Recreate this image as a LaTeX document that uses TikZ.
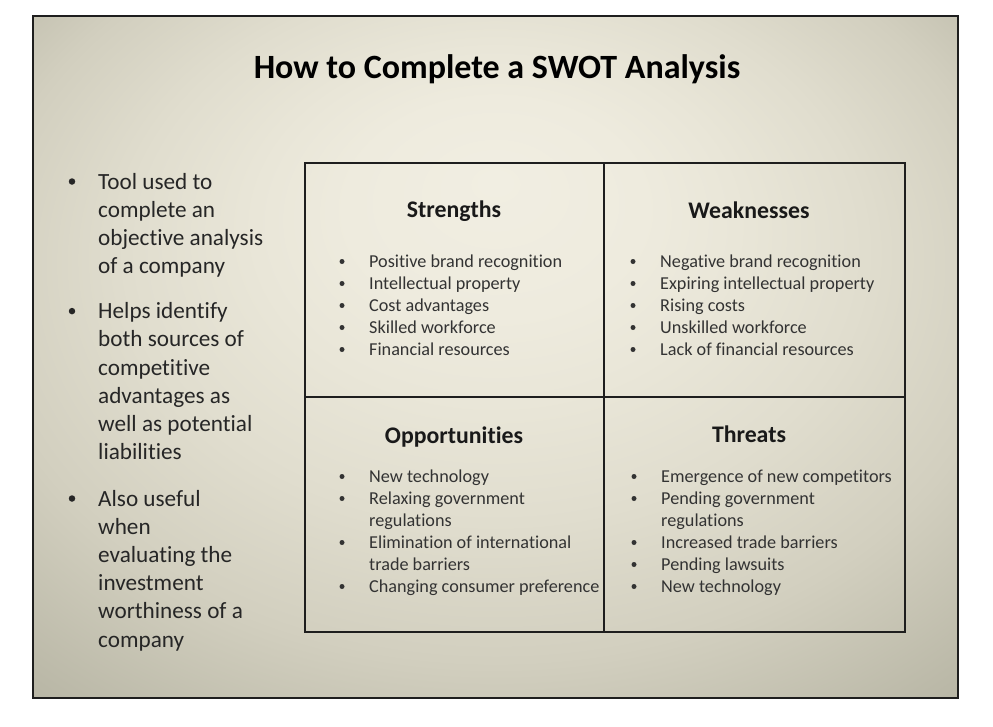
\documentclass[tikz,border=0pt]{standalone}
\usepackage{fontspec}
\setmainfont{Carlito}[Ligatures=NoCommon]

% slide palette
\definecolor{bg0}{HTML}{F1EEE2}
\definecolor{bg1}{HTML}{EEEBDE}
\definecolor{bg2}{HTML}{E9E6D8}
\definecolor{bg3}{HTML}{E0DDCE}
\definecolor{bg4}{HTML}{D2CFBF}
\definecolor{bg5}{HTML}{B7B5A4}
\definecolor{bg6}{HTML}{A5A393}
\definecolor{frame}{HTML}{1E1E1E}
\definecolor{bodytext}{HTML}{262626}
\definecolor{itemtext}{HTML}{333333}

% soft vignette, lightest just above the middle of the slide
% (the path's bounding box spans -25bp..25bp of the shading)
\pgfdeclareradialshading{slidebg}{\pgfpoint{0bp}{13bp}}{%
  color(0bp)=(bg0); color(8bp)=(bg1); color(13bp)=(bg2);
  color(20bp)=(bg3); color(28bp)=(bg4); color(38bp)=(bg5);
  color(46bp)=(bg6); color(50bp)=(bg6)}

\tikzset{
  heading/.style={anchor=base, inner sep=0pt, text=black,
    font=\bfseries\fontsize{34}{40}\selectfont},
  lefttext/.style={anchor=base west, inner sep=0pt, text=bodytext,
    font=\fontsize{23.2}{28}\selectfont},
  leftdot/.style={circle, fill=bodytext, inner sep=0pt, minimum size=6.5pt},
  qhead/.style={anchor=base, inner sep=0pt, text=black!90,
    font=\bfseries\fontsize{23.8}{28}\selectfont},
  itemtext/.style={anchor=base west, inner sep=0pt, text=itemtext,
    font=\fontsize{18.2}{22}\selectfont},
  itemdot/.style={circle, fill=itemtext, inner sep=0pt, minimum size=5pt},
  gridline/.style={draw=frame, line width=1.8pt},
}

\begin{document}
\begin{tikzpicture}[x=1pt, y=-1pt]
  \useasboundingbox (0,0) rectangle (993,726);
  \fill[white] (0,0) rectangle (993,726);

  % slide background and frame
  \shade[shading=slidebg] (33,16) rectangle (958,698);
  \draw[draw=frame, line width=2.4pt] (33,16) rectangle (958,698);

  % title
  \node[heading] (title) at (497,78) {How to Complete a SWOT Analysis};

  % left column bullets
  \foreach \y/\b/\t [count=\i] in {
      189/1/Tool used to, 217.2/0/complete an, 245.4/0/objective analysis,
      273.6/0/of a company,
      318.6/1/Helps identify, 346.8/0/both sources of, 375/0/competitive,
      403.2/0/advantages as, 431.4/0/well as potential, 459.6/0/liabilities,
      506/1/Also useful, 534.2/0/when, 562.4/0/evaluating the,
      590.6/0/investment, 618.8/0/worthiness of a, 647/0/company}{
    \node[lefttext] (left\i) at (98,\y) {\t};
    \ifnum\b=1 \node[leftdot] (leftdot\i) at (72,\y-7.5) {};\fi
  }

  % SWOT grid
  \coordinate (gNW) at (305,163);
  \coordinate (gSE) at (905,632);
  \coordinate (gTop) at (604,163);
  \coordinate (gBot) at (604,632);
  \coordinate (gLeft) at (305,397);
  \coordinate (gRight) at (905,397);
  \draw[gridline] (gNW) rectangle (gSE);
  \draw[gridline] (gTop) -- (gBot);
  \draw[gridline] (gLeft) -- (gRight);

  % quadrant headings
  \node[qhead] (strengths) at (454,217) {Strengths};
  \node[qhead] (weaknesses) at (749,218) {Weaknesses};
  \node[qhead] (opportunities) at (454,443) {Opportunities};
  \node[qhead] (threats) at (749,442) {Threats};

  % Strengths
  \foreach \t [count=\i from 0] in {Positive brand recognition,
      Intellectual property, Cost advantages, Skilled workforce,
      Financial resources}{
    \node[itemtext] (str\i) at (369,267+22*\i) {\t};
    \node[itemdot] (strdot\i) at (342,261.5+22*\i) {};
  }

  % Weaknesses
  \foreach \t [count=\i from 0] in {Negative brand recognition,
      Expiring intellectual property, Rising costs, Unskilled workforce,
      Lack of financial resources}{
    \node[itemtext] (weak\i) at (660,267+22*\i) {\t};
    \node[itemdot] (weakdot\i) at (633,261.5+22*\i) {};
  }

  % Opportunities
  \foreach \t/\b [count=\i from 0] in {New technology/1,
      Relaxing government/1, regulations/0,
      Elimination of international/1, trade barriers/0,
      Changing consumer preference/1}{
    \node[itemtext] (opp\i) at (369,482+22*\i) {\t};
    \ifnum\b=1 \node[itemdot] (oppdot\i) at (342,476.5+22*\i) {};\fi
  }

  % Threats
  \foreach \t/\b [count=\i from 0] in {Emergence of new competitors/1,
      Pending government/1, regulations/0,
      Increased trade barriers/1, Pending lawsuits/1, New technology/1}{
    \node[itemtext] (thr\i) at (661,482+22*\i) {\t};
    \ifnum\b=1 \node[itemdot] (thrdot\i) at (634,476.5+22*\i) {};\fi
  }
\end{tikzpicture}
\end{document}
